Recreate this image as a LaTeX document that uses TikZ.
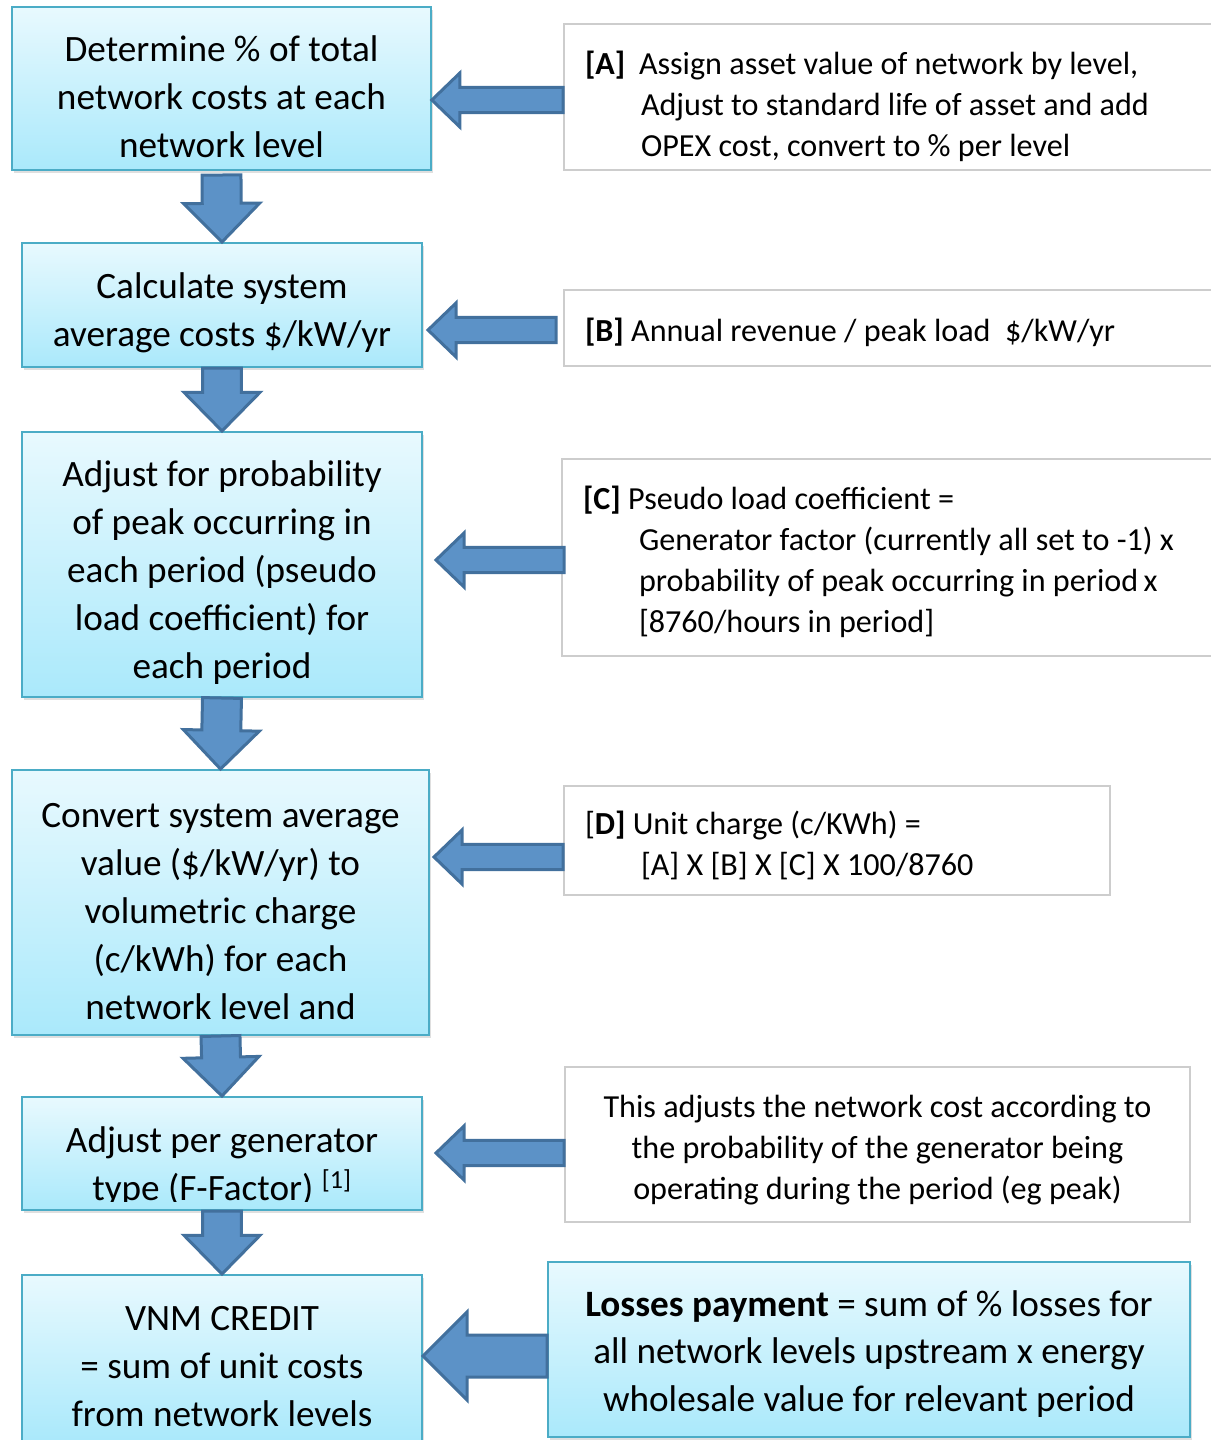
\documentclass[tikz,border=0pt]{standalone}
\usepackage{fontspec}
\setmainfont{Carlito}
\usetikzlibrary{calc,shadows}

\definecolor{boxtop}{RGB}{232,249,254}
\definecolor{boxbot}{RGB}{170,233,251}
\definecolor{boxline}{RGB}{75,172,198}
\definecolor{arrfill}{RGB}{92,146,199}
\definecolor{arrline}{RGB}{66,112,157}
\definecolor{infoline}{RGB}{205,205,205}

\tikzset{
  fatarrow/.style n args={3}{draw=arrline, fill=arrfill, line width=2.25pt, line join=miter,
    to path={(\tikztostart) coordinate (fas) (\tikztotarget) coordinate (fat)
      ($(fat)!#3!(fas)$) coordinate (fah)
      ($(fas)!#1!90:(fat)$) -- ($(fah)!#1!-90:(fas)$) -- ($(fah)!#2!-90:(fas)$) -- (fat)
      -- ($(fah)!#2!90:(fas)$) -- ($(fah)!#1!90:(fas)$) -- ($(fas)!#1!-90:(fat)$) -- cycle}},
  leftarrow/.style={fatarrow={9.4pt}{20.25pt}{21pt}},
  bigarrow/.style={fatarrow={15.75pt}{33pt}{33pt}},
  downarrow/.style={fatarrow={14.6pt}{28.5pt}{29pt}},
  bigfont/.style={font=\fontsize{27.9}{36}\selectfont},
  flowbox/.style={draw=boxline, line width=1.5pt, top color=boxtop, bottom color=boxbot,
    drop shadow={shadow xshift=1.5pt, shadow yshift=-2pt, opacity=0.25},
    align=flush center, inner xsep=6pt, inner ysep=2pt, text height=31pt, bigfont},
  infobox/.style={draw=infoline, line width=1.5pt, fill=white, inner xsep=15.75pt,
    inner ysep=2pt, text height=24.5pt, font=\fontsize{24.1}{30.75}\selectfont}
}

\begin{document}
\begin{tikzpicture}[x=0.75pt,y=-0.75pt]
\useasboundingbox (0,0) rectangle (1211,1440);

\node[flowbox, text width=302pt, minimum height=122.25pt] (detpct) at (221.5,88.5)
  {Determine \% of total\\network costs at each\\network level};
\node[flowbox, text width=288pt, minimum height=93pt] (calcavg) at (222,305)
  {Calculate system\\average costs \$/kW/yr};
\node[flowbox, text width=288pt, minimum height=198.75pt] (adjprob) at (222,564.5)
  {Adjust for probability\\of peak occurring in\\each period (pseudo\\load coefficient) for\\each period};
\node[flowbox, text width=300.75pt, minimum height=198.75pt] (convert) at (220.5,902.5)
  {Convert system average\\value (\$/kW/yr) to\\volumetric charge\\(c/kWh) for each\\network level and};
\node[flowbox, text width=288pt, minimum height=84.75pt] (gentype) at (222,1153.5) {};
\begin{scope}
  \clip (gentype.north west) rectangle (gentype.east |- 0,1201);
  \node[align=center, bigfont] (gentypetxt) at (222,1167)
    {Adjust per generator\\type (F-Factor) \textsuperscript{[1]}};
\end{scope}
\node[flowbox, text width=288pt, minimum height=124.5pt] (vnm) at (222,1358)
  {VNM CREDIT\\= sum of unit costs\\from network levels};

\node[infobox, text width=463.5pt, minimum height=109.5pt, align=flush left, text height=32pt] (infoA) at (894,97)
  {\makebox[40.5pt][l]{\textbf{[A]}}Assign asset value of network by level,\\
   \hspace*{42pt}Adjust to standard life of asset and add\\
   \hspace*{42pt}OPEX cost, convert to \% per level};
\node[infobox, text width=463.5pt, minimum height=57pt, align=flush left] (infoB) at (894,328)
  {\textbf{[B]} Annual revenue / peak load\ \ \$/kW/yr};
\node[infobox, text width=465pt, minimum height=147.75pt, align=flush left] (infoC) at (893,557.5)
  {\textbf{[C]} Pseudo load coefficient =\\
   \hspace*{42pt}Generator factor (currently all set to -1) x\\
   \hspace*{42pt}probability of peak occurring in period\,x\\
   \hspace*{42pt}[8760/hours in period]};
\node[infobox, text width=378pt, minimum height=81.75pt, align=flush left] (infoD) at (837,840.5)
  {[\textbf{D]} Unit charge (c/KWh) =\\
   \hspace*{42pt}[A] X [B] X [C] X 100/8760};
\node[infobox, text width=437.25pt, minimum height=116.25pt, align=flush center] (infoE) at (877.5,1144.5)
  {This adjusts the network cost according to\\the probability of the generator being\\operating during the period (eg peak)};
\node[flowbox, inner xsep=15.75pt, text width=450pt, minimum height=131.25pt, text height=25.75pt,
  font=\fontsize{27.9}{35.6}\selectfont] (losses) at (869,1349.5)
  {\textbf{Losses payment} = sum of \% losses for\\all network levels upstream x energy\\wholesale value for relevant period};

\draw[downarrow] ([yshift=-3pt]detpct.south) to (calcavg.north);
\draw[downarrow] (calcavg.south) to (adjprob.north);
\draw[downarrow] (adjprob.south) to (convert.north);
\draw[downarrow] (convert.south) to (gentype.north);
\draw[downarrow] (gentype.south) to (vnm.north);

\draw[leftarrow] (infoA.west |- 0,100) to (detpct.east |- 0,100);
\draw[leftarrow] ($(infoB.west |- 0,330)+(-7,0)$) to ($(calcavg.east |- 0,330)+(5,0)$);
\draw[leftarrow] ($(infoC.west |- 0,560)+(3,0)$) to ($(adjprob.east |- 0,560)+(13,0)$);
\draw[leftarrow] (infoD.west |- 0,857) to ($(convert.east |- 0,857)+(4,0)$);
\draw[leftarrow] (infoE.west |- 0,1153) to ($(gentype.east |- 0,1153)+(13,0)$);
\draw[bigarrow] (losses.west |- 0,1356) to (vnm.east |- 0,1356);
\end{tikzpicture}
\end{document}
